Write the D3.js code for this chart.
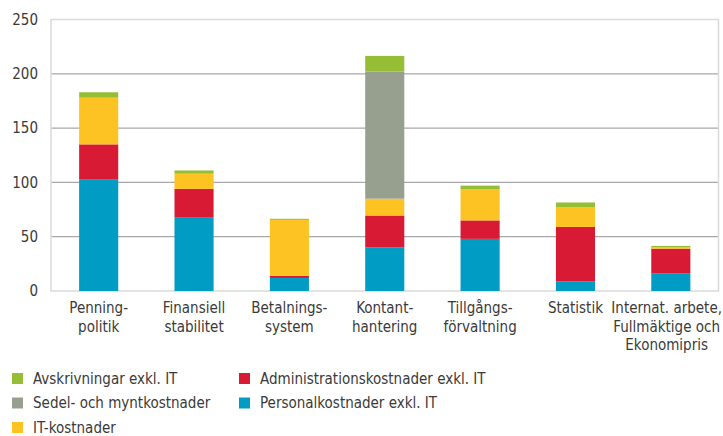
<!DOCTYPE html>
<html><head><meta charset="utf-8">
<script src="https://cdn.jsdelivr.net/npm/d3@7"></script>
<style>
html,body{margin:0;padding:0;background:#fff;}
svg text{font-family:"Liberation Sans Narrow","DejaVu Sans Condensed","Open Sans",sans-serif;fill:#3a3a3a;}
</style></head>
<body>
<svg id="c" width="723" height="436"></svg>
<script>
const categories = [
  ["Penning-","politik"],
  ["Finansiell","stabilitet"],
  ["Betalnings-","system"],
  ["Kontant-","hantering"],
  ["Tillgångs-","förvaltning"],
  ["Statistik"],
  ["Internat. arbete,","Fullmäktige och","Ekonomipris"]
];
const personal   = [103, 67.5, 12, 40, 48, 9, 16];
const admin      = [32, 26.5, 2, 29.5, 17, 50, 23];
const itCost     = [43, 14, 51.5, 15.5, 28.5, 18, 1.5];
const sedel      = [0, 0, 0, 117, 0, 0, 0];
const avskr      = [5, 3, 1, 14.5, 3.5, 4.5, 1];
const yTicks = [0, 50, 100, 150, 200, 250];

const seriesNames = ["Personalkostnader exkl. IT","Administrationskostnader exkl. IT","IT-kostnader","Sedel- och myntkostnader","Avskrivningar exkl. IT"];
const seriesData = [personal, admin, itCost, sedel, avskr];
const colors = ["#009cc4","#d91a35","#fdc323","#97a08e","#95be35"];

const svg = d3.select("#c");
const mLeft = 51, mRight = 718.5, mTop = 19.5, mBottom = 291;

const rows = categories.map((c,i)=>{
  const o = {key:i};
  seriesNames.forEach((s,j)=>o[s]=seriesData[j][i]);
  return o;
});
const stack = d3.stack().keys(seriesNames)(rows);

const x = d3.scaleBand().domain(d3.range(categories.length)).range([mLeft,mRight]).paddingInner(0.59).paddingOuter(0.295);
const y = d3.scaleLinear().domain([0,250]).range([mBottom, mTop]);

// gridlines
svg.append("g").selectAll("line").data(yTicks.filter(t=>t>0 && t<250)).join("line")
  .attr("x1",mLeft).attr("x2",mRight).attr("y1",d=>y(d)).attr("y2",d=>y(d))
  .attr("stroke","#a9a9ad").attr("stroke-width",1.2);
// frame
svg.append("rect").attr("x",mLeft).attr("y",y(250)).attr("width",mRight-mLeft).attr("height",mBottom-y(250))
  .attr("fill","none").attr("stroke","#dadada").attr("stroke-width",1.5);

// bars
svg.append("g").selectAll("g").data(stack).join("g")
  .attr("fill",(d,i)=>colors[i])
  .selectAll("rect").data(d=>d).join("rect")
  .attr("x",(d,i)=>x(i)).attr("width",x.bandwidth())
  .attr("y",d=>y(d[1])).attr("height",d=>Math.max(0,y(d[0])-y(d[1])));

// y axis labels
const yAxis = d3.axisLeft(y).tickValues(yTicks).tickSize(0).tickPadding(13);
const ya = svg.append("g").attr("transform",`translate(${mLeft},0)`).call(yAxis);
ya.attr("font-family",null).attr("font-size",null);
ya.select(".domain").remove();
ya.selectAll("text").attr("font-size",15).attr("fill","#3a3a3a");

// category labels
const cg = svg.append("g").selectAll("text").data(categories).join("text")
  .attr("text-anchor","middle").attr("font-size",15)
  .attr("x",(d,i)=>x(i)+x.bandwidth()/2).attr("y",313);
cg.selectAll("tspan").data(d=>d).join("tspan")
  .attr("x",function(){return this.parentNode.getAttribute("x");})
  .attr("dy",(d,i)=>i===0?0:18.5).text(d=>d);
// keep labels inside the canvas
cg.each(function(){
  const bb = this.getBBox();
  const over = bb.x + bb.width - 722;
  if (over > 0) {
    const nx = +this.getAttribute("x") - over;
    d3.select(this).attr("x", nx).selectAll("tspan").attr("x", nx);
  }
});

// legend
const legendOrder = [
  {name:"Avskrivningar exkl. IT", c:4, col:0, row:0},
  {name:"Sedel- och myntkostnader", c:3, col:0, row:1},
  {name:"IT-kostnader", c:2, col:0, row:2},
  {name:"Administrationskostnader exkl. IT", c:1, col:1, row:0},
  {name:"Personalkostnader exkl. IT", c:0, col:1, row:1}
];
const lg = svg.append("g").selectAll("g").data(legendOrder).join("g")
  .attr("transform",d=>`translate(${d.col? 239:12},${373 + d.row*24.5})`);
lg.append("rect").attr("width",11).attr("height",11).attr("fill",d=>colors[d.c]);
lg.append("text").attr("x",21).attr("y",10.5).attr("font-size",15).text(d=>d.name);
</script>
</body></html>
